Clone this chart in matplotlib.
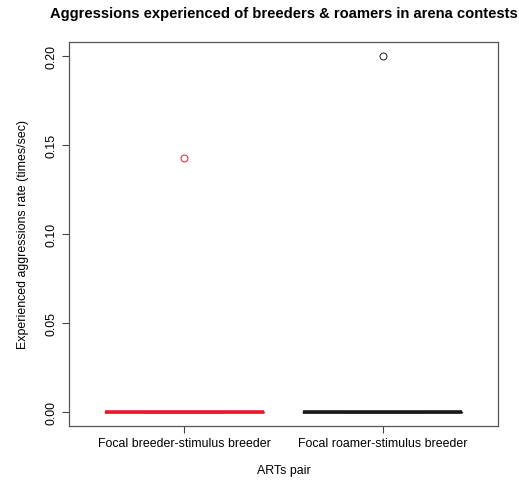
import numpy as np
import matplotlib.pyplot as plt

plt.rcParams['font.family'] = ['Liberation Sans', 'DejaVu Sans']

# data: all zero except one outlier in each group
groups = ["Focal breeder-stimulus breeder", "Focal roamer-stimulus breeder"]
breeder_rates = [0, 0, 0, 0, 0, 0, 0, 0, 0, 0, 0, 1 / 7]
roamer_rates = [0, 0, 0, 0, 0, 0, 0, 0, 0, 0, 0, 0.2]
colors = ["#e8192f", "#1a1a1a"]
yticks = [0.00, 0.05, 0.10, 0.15, 0.20]

fig = plt.figure(figsize=(5.19, 4.89), dpi=100)
ax = fig.add_axes([0.133, 0.127, 0.8265, 0.785])

for i, (vals, col) in enumerate(zip([breeder_rates, roamer_rates], colors)):
    ax.boxplot([vals], positions=[i + 1], widths=0.8, whis=1.5,
               patch_artist=False,
               boxprops=dict(color=col, linewidth=1),
               whiskerprops=dict(color=col, linewidth=1, linestyle='--'),
               capprops=dict(color=col, linewidth=1),
               medianprops=dict(color=col, linewidth=2.6, solid_capstyle='butt'),
               flierprops=dict(marker='o', markerfacecolor='none',
                               markeredgecolor=col, markersize=5,
                               markeredgewidth=0.7))

ax.set_xlim(0.42, 2.58)
ax.set_ylim(-0.008, 0.208)
ax.set_xticks([1, 2])
ax.set_xticklabels(groups, fontsize=8.9)
ax.set_yticks(yticks)
ax.set_yticklabels(["%.2f" % v for v in yticks], rotation=90, va='center', fontsize=8.9)
ax.tick_params(length=5, width=0.8, color='#444444', pad=3)

for sp in ax.spines.values():
    sp.set_color('#555555')
    sp.set_linewidth(0.9)

ax.set_xlabel("ARTs pair", fontsize=8.9, labelpad=11)
ax.set_ylabel("Experienced aggressions rate (times/sec)", fontsize=8.9, labelpad=12)
ax.set_title("Aggressions experienced of breeders & roamers in arena contests",
             fontsize=10.6, fontweight='bold', pad=18)

fig.savefig("out.png", dpi=100)
